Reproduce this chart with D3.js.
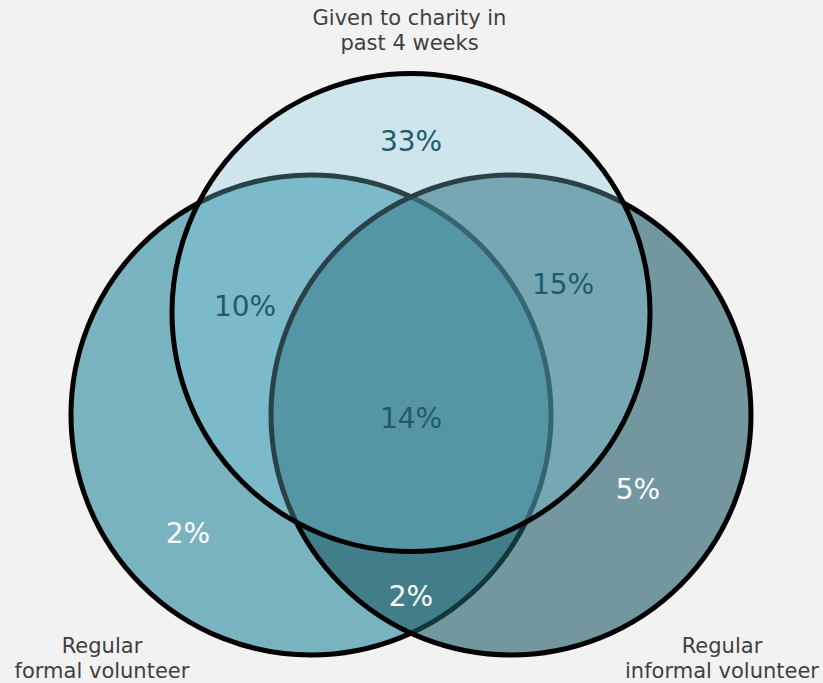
<!DOCTYPE html>
<html>
<head>
<meta charset="utf-8">
<script src="https://cdn.jsdelivr.net/npm/d3@7"></script>
<style>
	body { margin: 0; background: #f2f2f2; }
	text { font-family: "DejaVu Sans", Verdana, sans-serif; }
</style>
</head>
<body>
<script>
// sets, drawn in this order (left, right, top)
var setNames = [
	["Regular", "formal volunteer"],
	["Regular", "informal volunteer"],
	["Given to charity in", "past 4 weeks"]
];

// region shares (%)
var regionNames  = ["Charity only", "Formal + charity", "Informal + charity", "All three",
					"Formal only", "Informal only", "Formal + informal"];
var regionValues = [33, 10, 15, 14, 2, 5, 2];

// layout, in venn units (1 unit = 100px)
var setCx     = [-1, 1, 0],
	setCy     = [0, 0, 1.025],
	setR      = [2.4, 2.4, 2.39],
	setLabelX = [-3.09, 3.11, -0.015],
	setLabelY = [-2.38, -2.38, 3.9];

var regionX = [0, -1.66, 1.52, 0, -2.23, 2.27, 0],
	regionY = [2.74, 1.09, 1.31, -0.03, -1.18, -0.74, -1.81];

var fills       = ["rgb(42,137,159)", "rgb(29,90,102)", "rgb(126,201,220)"],
	fillOpacity = [0.6, 0.6, 0.32],
	labelColors = ["#1e5c6b", "#1e5c6b", "#1e5c6b", "#1e5c6b", "#ffffff", "#ffffff", "#ffffff"];

var width  = 823,
	height = 683;

var svg = d3.select("body")
	.append("svg")
	.attr("width", width)
	.attr("height", height);

var x = d3.scaleLinear().domain([-1, 1]).range([311, 511]),
	y = d3.scaleLinear().domain([0, 1]).range([415, 315]);

function radius(r) {
	return x(r) - x(0);
}

svg.selectAll("circle.set")
	.data(setNames)
	.enter()
	.append("circle")
	.attr("class", "set")
	.attr("cx", function(d, i) { return x(setCx[i]); })
	.attr("cy", function(d, i) { return y(setCy[i]); })
	.attr("r", function(d, i) { return radius(setR[i]); })
	.style("fill", function(d, i) { return fills[i]; })
	.style("fill-opacity", function(d, i) { return fillOpacity[i]; })
	.style("stroke", "#000")
	.style("stroke-width", 5);

svg.selectAll("text.value")
	.data(regionValues)
	.enter()
	.append("text")
	.attr("class", "value")
	.attr("x", function(d, i) { return x(regionX[i]); })
	.attr("y", function(d, i) { return y(regionY[i]); })
	.attr("text-anchor", "middle")
	.attr("dy", "0.36em")
	.style("font-size", "28px")
	.style("fill", function(d, i) { return labelColors[i]; })
	.text(function(d) { return d + "%"; });

var labels = svg.selectAll("text.set-label")
	.data(setNames)
	.enter()
	.append("text")
	.attr("class", "set-label")
	.attr("text-anchor", "middle")
	.style("font-size", "21px")
	.style("fill", "#404040");

labels.selectAll("tspan")
	.data(function(d, i) {
		return d.map(function(line, j) {
			return { text: line, i: i, j: j, n: d.length };
		});
	})
	.enter()
	.append("tspan")
	.attr("x", function(d) { return x(setLabelX[d.i]); })
	.attr("y", function(d) {
		// setLabelY is the baseline of the first line for the top set, of the last... keep first-line baseline
		return y(setLabelY[d.i]) + d.j * 25;
	})
	.text(function(d) { return d.text; });
</script>
</body>
</html>
